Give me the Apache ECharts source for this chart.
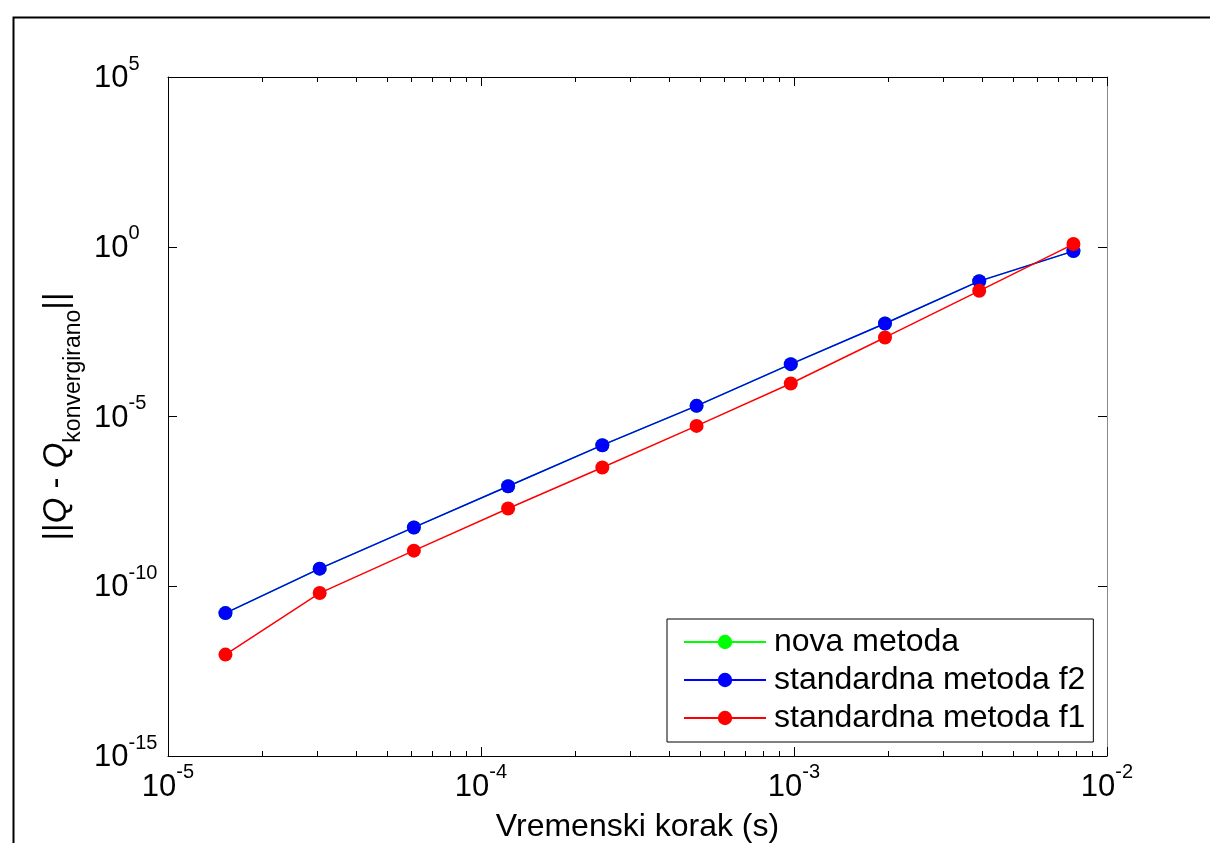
<!DOCTYPE html>
<html>
<head>
<meta charset="utf-8">
<script src="https://cdn.jsdelivr.net/npm/echarts@6/dist/echarts.min.js"></script>
<style>
html,body{margin:0;padding:0;background:#fff;}
#chart{width:1210px;height:843px;}
</style>
</head>
<body>
<div id="chart"></div>
<script>
// ---- data ----
const timeSteps = [1.5259e-5, 3.0518e-5, 6.1035e-5, 1.2207e-4, 2.4414e-4, 4.8828e-4, 9.7656e-4, 1.9531e-3, 3.9063e-3, 7.8125e-3];
const novaMetoda = [1.62e-11, 3.3e-10, 5.4e-9, 8.8e-8, 1.43e-6, 2.06e-5, 3.48e-4, 5.5e-3, 9.7e-2, 0.745];
const standardnaF2 = [1.62e-11, 3.3e-10, 5.4e-9, 8.8e-8, 1.43e-6, 2.06e-5, 3.48e-4, 5.5e-3, 9.7e-2, 0.745];
const standardnaF1 = [9.7e-13, 6.3e-11, 1.12e-9, 1.95e-8, 3.14e-7, 5.28e-6, 9.4e-5, 2.13e-3, 5.04e-2, 1.2];
const seriesNames = ['nova metoda', 'standardna metoda f2', 'standardna metoda f1'];
const xMajorTicks = [1e-5, 1e-4, 1e-3, 1e-2];
const xMinorTicks = [2e-5, 3e-5, 4e-5, 5e-5, 6e-5, 7e-5, 8e-5, 9e-5,
                     2e-4, 3e-4, 4e-4, 5e-4, 6e-4, 7e-4, 8e-4, 9e-4,
                     2e-3, 3e-3, 4e-3, 5e-3, 6e-3, 7e-3, 8e-3, 9e-3];
const yMajorTicks = [1e-15, 1e-10, 1e-5, 1e0, 1e5];
const xAxisTitle = 'Vremenski korak (s)';

const FONT = '"Liberation Sans", Arial, sans-serif';
const pairs = ys => timeSteps.map((x, i) => [x, ys[i]]);
const expLabel = v => '{b|10}{s|' + Math.round(Math.log10(v)) + '}';
const labelRich = {
  b: {fontSize: 31, lineHeight: 31, padding: [9, 0, 0, 0], fontFamily: FONT, color: '#000'},
  s: {fontSize: 20, lineHeight: 20, padding: [0, 0, 20, 0], fontFamily: FONT, color: '#000'}
};

const chart = echarts.init(document.getElementById('chart'), null, {renderer: 'canvas'});
const xBase = {type: 'log', logBase: 10, min: 1e-5, max: 1e-2, gridIndex: 0, splitLine: {show: false}};
const yBase = {type: 'log', logBase: 10, min: 1e-15, max: 1e5, gridIndex: 0, splitLine: {show: false}};

chart.setOption({
  animation: false,
  backgroundColor: '#fff',
  textStyle: {fontFamily: FONT},
  graphic: [{
    type: 'rect', left: 11, top: 15, silent: true, z: -1,
    shape: {x: 0, y: 0, width: 1300, height: 900},
    style: {fill: 'none', stroke: '#000', lineWidth: 2}
  }],
  grid: {left: 168, right: 103, top: 77, bottom: 87, containLabel: false, outerBoundsMode: 'none'},
  xAxis: [
    Object.assign({}, xBase, {
      position: 'bottom',
      axisLine: {show: true, lineStyle: {color: '#000', width: 1}},
      axisTick: {show: true, inside: true, length: 9, customValues: xMajorTicks, lineStyle: {color: '#000'}},
      axisLabel: {show: true, customValues: xMajorTicks, margin: 11, formatter: expLabel, rich: labelRich},
      name: xAxisTitle, nameLocation: 'middle', nameGap: 55, nameMoveOverlap: false,
      nameTextStyle: {fontSize: 32, color: '#000', fontFamily: FONT}
    }),
    Object.assign({}, xBase, {
      position: 'bottom',
      axisLine: {show: false},
      axisTick: {show: true, inside: true, length: 5, customValues: xMinorTicks, lineStyle: {color: '#000'}},
      axisLabel: {show: false}
    }),
    Object.assign({}, xBase, {
      position: 'top',
      axisLine: {show: true, lineStyle: {color: '#000', width: 1}},
      axisTick: {show: true, inside: true, length: 9, customValues: xMajorTicks, lineStyle: {color: '#000'}},
      axisLabel: {show: false}
    }),
    Object.assign({}, xBase, {
      position: 'top',
      axisLine: {show: false},
      axisTick: {show: true, inside: true, length: 5, customValues: xMinorTicks, lineStyle: {color: '#000'}},
      axisLabel: {show: false}
    })
  ],
  yAxis: [
    Object.assign({}, yBase, {
      position: 'left',
      axisLine: {show: true, lineStyle: {color: '#000', width: 1}},
      axisTick: {show: true, inside: true, length: 9, customValues: yMajorTicks, lineStyle: {color: '#000'}},
      axisLabel: {show: true, customValues: yMajorTicks, margin: 74, align: 'left', padding: [0, 0, 6, 0], formatter: expLabel, rich: labelRich},
      name: '{b|||}{i|Q}{b| - }{i|Q}{s|konvergirano}{b|||}',
      nameLocation: 'middle', nameRotate: 90, nameGap: 89, nameMoveOverlap: false,
      nameTextStyle: {
        rich: {
          b: {fontSize: 33, lineHeight: 33, padding: [0, 0, 12, 0], color: '#000', fontFamily: FONT},
          i: {fontSize: 33, lineHeight: 33, padding: [0, 0, 12, 0], fontStyle: 'italic', color: '#000', fontFamily: FONT},
          s: {fontSize: 23, lineHeight: 23, padding: [22, 0, 0, 0], color: '#000', fontFamily: FONT}
        }
      }
    }),
    Object.assign({}, yBase, {
      position: 'right',
      axisLine: {show: true, lineStyle: {color: '#888', width: 1}},
      axisTick: {show: true, inside: true, length: 9, customValues: yMajorTicks, lineStyle: {color: '#000'}},
      axisLabel: {show: false}
    })
  ],
  legend: {
    orient: 'vertical',
    left: 667, top: 619,
    data: seriesNames,
    itemWidth: 82, itemHeight: 18, itemGap: 0,
    padding: [4, 8, 5, 16],
    borderColor: '#000', borderWidth: 1,
    backgroundColor: '#fff',
    textStyle: {fontSize: 32, lineHeight: 38, color: '#000', fontFamily: FONT, padding: [0, 0, 0, 3]}
  },
  series: [
    {name: seriesNames[0], type: 'line', data: pairs(novaMetoda), symbol: 'circle', symbolSize: 14,
     color: '#00ff00', lineStyle: {width: 1.5, color: '#00ff00'}, itemStyle: {color: '#00ff00'}, z: 2},
    {name: seriesNames[1], type: 'line', data: pairs(standardnaF2), symbol: 'circle', symbolSize: 14,
     color: '#0000ff', lineStyle: {width: 1.5, color: '#0000ff'}, itemStyle: {color: '#0000ff'}, z: 3},
    {name: seriesNames[2], type: 'line', data: pairs(standardnaF1), symbol: 'circle', symbolSize: 14,
     color: '#ff0000', lineStyle: {width: 1.5, color: '#ff0000'}, itemStyle: {color: '#ff0000'}, z: 4}
  ]
});
</script>
</body>
</html>
